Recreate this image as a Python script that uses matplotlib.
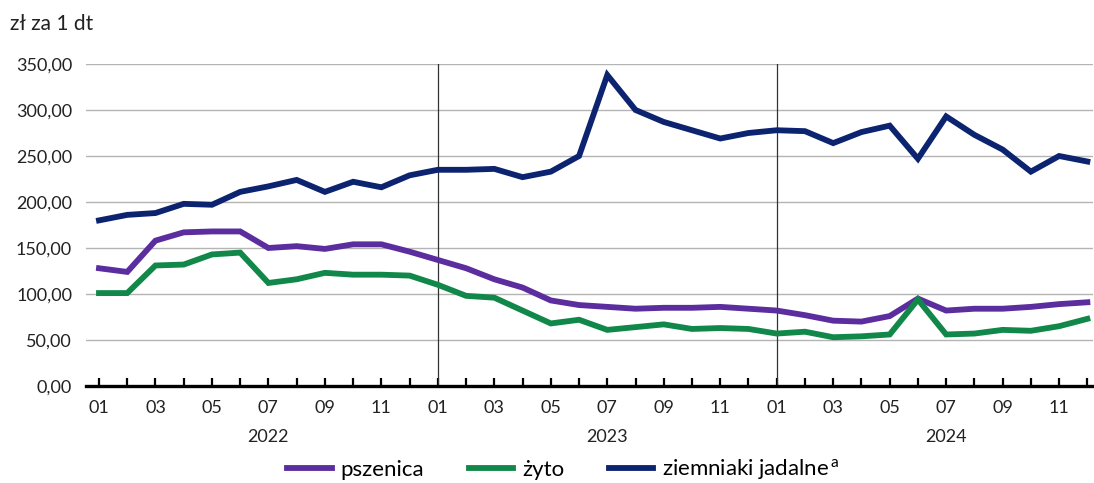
import matplotlib
matplotlib.use("Agg")
import matplotlib.pyplot as plt
from matplotlib.ticker import FuncFormatter, MultipleLocator

plt.rcParams['font.family'] = ['Lato', 'DejaVu Sans']

months = [f"{m:02d}" for m in range(1, 13)] * 3
years = ["2022", "2023", "2024"]

pszenica = [128, 124, 158, 167, 168, 168, 150, 152, 149, 154, 154, 146,
            137, 128, 116, 107, 93, 88, 86, 84, 85, 85, 86, 84,
            82, 77, 71, 70, 76, 95, 82, 84, 84, 86, 89, 91]
zyto = [101, 101, 131, 132, 143, 145, 112, 116, 123, 121, 121, 120,
        110, 98, 96, 82, 68, 72, 61, 64, 67, 62, 63, 62,
        57, 59, 53, 54, 56, 94, 56, 57, 61, 60, 65, 73]
ziemniaki = [180, 186, 188, 198, 197, 211, 217, 224, 211, 222, 216, 229,
             235, 235, 236, 227, 233, 250, 338, 300, 287, 278, 269, 275,
             278, 277, 264, 276, 283, 247, 293, 273, 257, 233, 250, 244]

fig = plt.figure(figsize=(10.94, 4.83), dpi=100)
ax = fig.add_axes([86/1094, (483-386)/483, (1093-86)/1094, (386-64)/483])

x = list(range(len(months)))
c_psz = '#5b2d9e'
c_zy = '#11884a'
c_zi = '#0c2370'
l1, = ax.plot(x, pszenica, color=c_psz, lw=4.2, solid_joinstyle='miter', label='pszenica', zorder=3)
l2, = ax.plot(x, zyto, color=c_zy, lw=4.2, solid_joinstyle='miter', label='żyto', zorder=3)
l3, = ax.plot(x, ziemniaki, color=c_zi, lw=4.2, solid_joinstyle='miter',
              label='ziemniaki jadalne$^{\\mathregular{\\,a}}$', zorder=3)

ax.set_ylim(0, 350)
ax.set_xlim(-0.46, 35.2)
ax.yaxis.set_major_locator(MultipleLocator(50))
ax.yaxis.set_major_formatter(FuncFormatter(lambda v, p: f"{v:.2f}".replace('.', ',')))
ax.grid(axis='y', color='#b4b4b4', lw=1.0, zorder=0)
ax.set_axisbelow(True)
for s in ['top', 'right', 'left']:
    ax.spines[s].set_visible(False)
ax.spines['bottom'].set_linewidth(2.4)
ax.spines['bottom'].set_color('black')
ax.tick_params(axis='y', length=0, labelsize=13, pad=10, colors='#222222')
ax.set_xticks(x)
ax.set_xticklabels([m if i % 2 == 0 else '' for i, m in enumerate(months)])
ax.tick_params(axis='x', direction='in', length=6, width=1.6, color='black', labelsize=13, pad=10)
for lab in ax.get_xticklabels():
    lab.set_color('#222222')

for i in (12, 24):
    ax.axvline(i, color='#333333', lw=0.9, zorder=1)

for k, yr in enumerate(years):
    ax.text(k * 12 + 6, -0.135, yr, transform=ax.get_xaxis_transform(),
            ha='center', va='top', fontsize=13, color='#222222')

fig.text(10/1094, 1 - 24/483, 'zł za 1 dt', ha='left', va='center', fontsize=15, color='#222222')

fig.legend(handles=[l1, l2, l3], loc='center', bbox_to_anchor=(0.515, 1 - 470/483),
           ncol=3, frameon=False, fontsize=16, handlelength=2.0, columnspacing=2.0,
           handletextpad=0.4)

fig.savefig('out.png', dpi=100)
